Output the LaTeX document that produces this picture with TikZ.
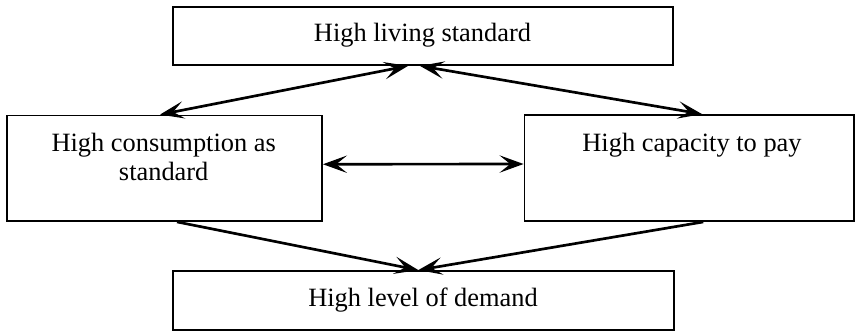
\documentclass[tikz,border=0pt]{standalone}
\usepackage{fontspec}
\setmainfont{Liberation Serif}
\usetikzlibrary{arrows.meta,calc}
\begin{document}
\begin{tikzpicture}[x=0.75pt,y=-0.75pt,
  myhead/.tip={Stealth[length=18pt,width=13pt,inset=8pt]},
  box/.style={draw, line width=1.4pt, rectangle, inner sep=0pt},
  lbl/.style={inner sep=0pt, anchor=base, font=\fontsize{19.8}{21.75}\selectfont, align=center},
  link/.style={line width=2pt, myhead-myhead},
  onelink/.style={line width=2pt, -myhead}
]
\useasboundingbox (0,0) rectangle (855,332);
% boxes
\node[box, minimum width=375pt, minimum height=43.7pt] (top) at (423,35.85) {};
\node[box, minimum width=236.25pt, minimum height=79.1pt] (left) at (164.5,168.25) {};
\node[box, minimum width=247.1pt, minimum height=79.5pt] (right) at (689.25,168) {};
\node[box, minimum width=375.75pt, minimum height=44.25pt] (bottom) at (423.3,300.5) {};
% labels
\node[lbl] (ttop) at (422.5,41.7) {High living standard};
\node[lbl] (tleft) at (163.7,180) {High consumption as\\standard};
\node[lbl] (tright) at (692,151.7) {High capacity to pay};
\node[lbl] (tbottom) at (423,306.7) {High level of demand};
% connectors
\draw[link] ($(top.south)+(-15,0)$) -- ($(left.north)+(-4.5,0)$);
\draw[link] ($(top.south)+(-3,0)$) -- ($(right.north)+(12.75,0)$);
\draw[link] ($(left.east)+(0,-4)$) -- ($(right.west)+(0,-4)$);
\draw[onelink] ($(left.south)+(12.5,0)$) -- ($(bottom.north)+(-5,0)$);
\draw[onelink] ($(right.south)+(14,0)$) -- ($(bottom.north)+(-5,0)$);
\end{tikzpicture}
\end{document}
